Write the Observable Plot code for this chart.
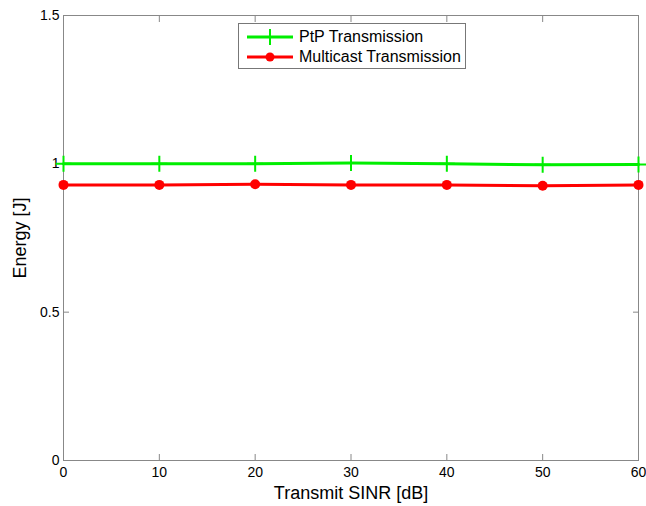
<!DOCTYPE html>
<html>
<head>
<meta charset="utf-8">
<script src="https://cdn.jsdelivr.net/npm/d3@7"></script>
<script src="https://cdn.jsdelivr.net/npm/@observablehq/plot@0.6"></script>
<style>
  html, body { margin: 0; padding: 0; background: #fff; }
  #wrap { position: relative; width: 646px; height: 506px; font-family: "Liberation Sans", Arial, sans-serif; }
  #legend { position: absolute; left: 238px; top: 23px; width: 228px; height: 46px; border: 1px solid #777; background: #fff; box-sizing: border-box; font-size: 16px; }
  .row { position: absolute; left: 0; height: 20px; display: flex; align-items: center; }
  .row svg { margin-left: 8px; }
  .row span { margin-left: 6px; color: #000; }
</style>
</head>
<body>
<div id="wrap"></div>
<script>
const sinr = [0, 10, 20, 30, 40, 50, 60];
const ptpEnergy = [1.0, 1.0, 1.0, 1.003, 1.0, 0.997, 0.998];
const multicastEnergy = [0.929, 0.929, 0.931, 0.929, 0.929, 0.926, 0.929];
const xTicks = [0, 10, 20, 30, 40, 50, 60];
const yTicks = [0, 0.5, 1, 1.5];
const yTickLabels = ["0", "0.5", "1", "1.5"];
const seriesNames = ["PtP Transmission", "Multicast Transmission"];
const seriesColors = ["#00ee00", "#ff0000"];

const ptp = sinr.map((x, i) => ({x, y: ptpEnergy[i]}));
const mc = sinr.map((x, i) => ({x, y: multicastEnergy[i]}));

const plusSymbol = {
  draw(context, size) {
    const r = Math.sqrt(size / Math.PI);
    context.moveTo(-r, 0); context.lineTo(r, 0);
    context.moveTo(0, -r); context.lineTo(0, r);
  }
};

const chart = Plot.plot({
  width: 646,
  height: 506,
  marginLeft: 63,
  marginRight: 8,
  marginTop: 15,
  marginBottom: 46,
  style: {fontFamily: "Liberation Sans, Arial, sans-serif", fontSize: "14px", background: "#fff", overflow: "visible"},
  x: {domain: [0, 60]},
  y: {domain: [0, 1.5]},
  marks: [
    Plot.frame({stroke: "#888", strokeWidth: 1}),
    Plot.axisX(xTicks, {anchor: "bottom", tickSize: 0, tickPadding: 7, label: null, fill: "#000", fontSize: 14}),
    Plot.axisX(xTicks, {anchor: "bottom", tickSize: -6, text: null, label: null, stroke: "#888"}),
    Plot.axisX(xTicks, {anchor: "top", tickSize: -6, text: null, label: null, stroke: "#888"}),
    Plot.axisY(yTicks, {anchor: "left", tickSize: 0, tickPadding: 4, label: null, fill: "#000", fontSize: 14, tickFormat: (d) => yTickLabels[yTicks.indexOf(d)]}),
    Plot.axisY(yTicks, {anchor: "left", tickSize: -6, text: null, label: null, stroke: "#888"}),
    Plot.axisY(yTicks, {anchor: "right", tickSize: -6, text: null, label: null, stroke: "#888"}),
    Plot.line(ptp, {x: "x", y: "y", stroke: seriesColors[0], strokeWidth: 3}),
    Plot.dot(ptp, {x: "x", y: "y", symbol: plusSymbol, r: 8, stroke: seriesColors[0], strokeWidth: 2, fill: "none"}),
    Plot.line(mc, {x: "x", y: "y", stroke: seriesColors[1], strokeWidth: 3}),
    Plot.dot(mc, {x: "x", y: "y", r: 5, fill: seriesColors[1], stroke: "none"}),
    Plot.text(["Transmit SINR [dB]"], {frameAnchor: "bottom", textAnchor: "middle", lineAnchor: "bottom", dy: 38, fontSize: 18, fill: "#000"}),
    Plot.text(["Energy [J]"], {frameAnchor: "left", textAnchor: "middle", dx: -43, rotate: -90, fontSize: 18, fill: "#000"})
  ]
});

const wrap = document.getElementById("wrap");
wrap.appendChild(chart);

const legend = document.createElement("div");
legend.id = "legend";
seriesNames.forEach((name, i) => {
  const row = document.createElement("div");
  row.className = "row";
  row.style.top = (3 + i * 20) + "px";
  const marker = i === 0
    ? `<line x1="0" y1="10" x2="46" y2="10" stroke="${seriesColors[i]}" stroke-width="3"/><line x1="23" y1="2" x2="23" y2="18" stroke="${seriesColors[i]}" stroke-width="2"/>`
    : `<line x1="0" y1="10" x2="46" y2="10" stroke="${seriesColors[i]}" stroke-width="3"/><circle cx="23" cy="10" r="4.5" fill="${seriesColors[i]}"/>`;
  row.innerHTML = `<svg width="46" height="20">${marker}</svg><span>${name}</span>`;
  legend.appendChild(row);
});
wrap.appendChild(legend);
</script>
</body>
</html>
